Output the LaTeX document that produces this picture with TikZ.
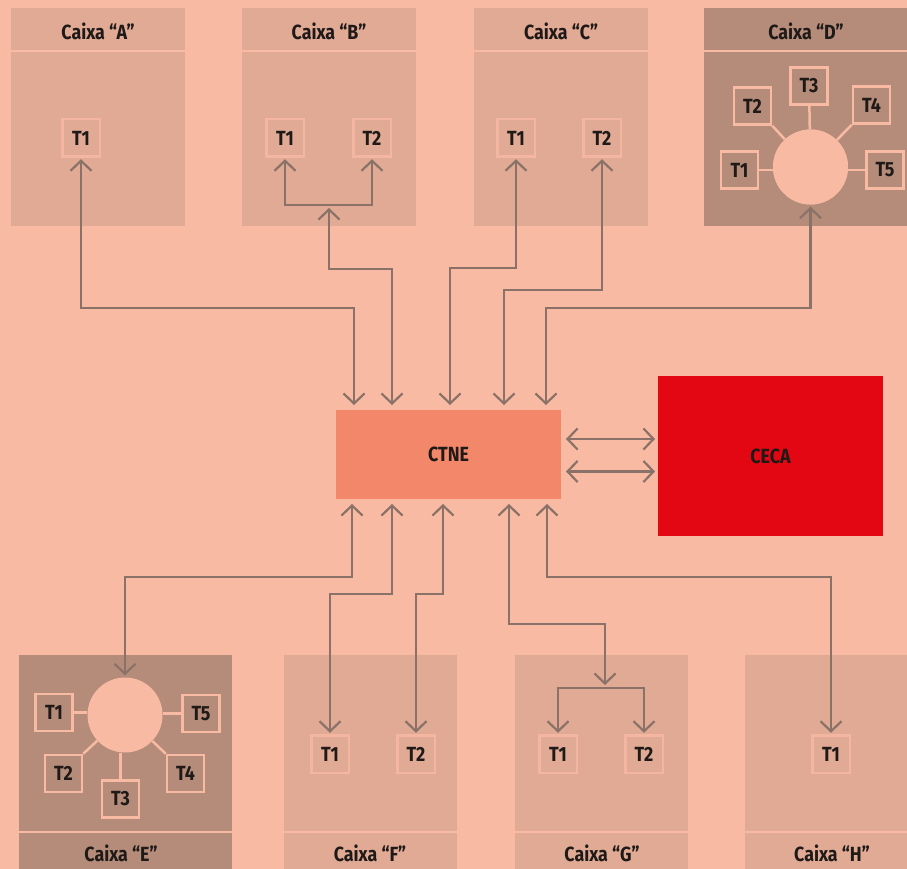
\documentclass[tikz,border=0pt]{standalone}
\usepackage{fontspec}
\newfontfamily\lblfont{Fira Sans}[FakeStretch=0.87]
\usetikzlibrary{arrows.meta}
\definecolor{bgc}{HTML}{F8BAA3}
\definecolor{panellight}{HTML}{E1AA95}
\definecolor{paneldark}{HTML}{B58C7A}
\definecolor{tborder}{HTML}{F5B6A1}
\definecolor{ctnec}{HTML}{F2876A}
\definecolor{cecac}{HTML}{E30613}
\definecolor{arrowc}{HTML}{8B7268}
\definecolor{textc}{HTML}{1F1A17}
\tikzset{
  lbl/.style={font=\lblfont\bfseries\fontsize{20.5}{24}\selectfont, text=textc, inner sep=0pt},
  tlight/.style={lbl, draw=tborder, line width=2.5pt, minimum size=37.5pt, outer sep=2.5pt},
  tdark/.style={lbl, draw=bgc, line width=2.5pt, fill=paneldark, minimum size=37pt},
  hub/.style={circle, fill=bgc, minimum size=75pt, inner sep=0pt},
  spoke/.style={draw=bgc, line width=2.5pt},
  divider/.style={draw=bgc, line width=2pt},
  dbl/.style={draw=arrowc, line width=2.2pt,
    {Straight Barb[length=10pt,width=21pt]}-{Straight Barb[length=10pt,width=21pt]}},
  caption/.style={lbl, anchor=base}
}
\begin{document}
\begin{tikzpicture}[x=1pt,y=-1pt]
\useasboundingbox (0,0) rectangle (907,869);
\fill[bgc] (0,0) rectangle (907,869);
% panels
\fill[panellight] (11,8) rectangle (185,226);
\fill[panellight] (242,8) rectangle (416,226);
\fill[panellight] (474,8) rectangle (648,226);
\fill[paneldark] (704,8) rectangle (907,226);
\fill[paneldark] (19,655) rectangle (232,869);
\fill[panellight] (284,655) rectangle (457,869);
\fill[panellight] (515,655) rectangle (688,869);
\fill[panellight] (745,655) rectangle (907,869);
\draw[divider] (11,51) -- (185,51);
\draw[divider] (242,51) -- (416,51);
\draw[divider] (474,51) -- (648,51);
\draw[divider] (704,51) -- (907,51);
\draw[divider] (19,832) -- (232,832);
\draw[divider] (284,832) -- (457,832);
\draw[divider] (515,832) -- (688,832);
\draw[divider] (745,832) -- (907,832);
% captions
\node[caption] (capA) at (98,40) {Caixa “A”};
\node[caption] (capB) at (329,40) {Caixa “B”};
\node[caption] (capC) at (561,40) {Caixa “C”};
\node[caption] (capD) at (806,40) {Caixa “D”};
\node[caption] (capE) at (121,861) {Caixa “E”};
\node[caption] (capF) at (370,861) {Caixa “F”};
\node[caption] (capG) at (602,861) {Caixa “G”};
\node[caption] (capH) at (832,861) {Caixa “H”};
% terminals in light panels
\node[tlight] (A1) at (81,138) {T1};
\node[tlight] (B1) at (285,138) {T1};
\node[tlight] (B2) at (372,138) {T2};
\node[tlight] (C1) at (516,138) {T1};
\node[tlight] (C2) at (602,138) {T2};
\node[tlight] (F1) at (330,754) {T1};
\node[tlight] (F2) at (416,754) {T2};
\node[tlight] (G1) at (558,754) {T1};
\node[tlight] (G2) at (644,754) {T2};
\node[tlight] (H1) at (831,754) {T1};
% Caixa D star
\node[hub] (Dc) at (810.5,167) {};
\node[tdark] (D1) at (739.5,170) {T1};
\node[tdark] (D2) at (752.5,106) {T2};
\node[tdark] (D3) at (809,86) {T3};
\node[tdark] (D4) at (871.5,105) {T4};
\node[tdark] (D5) at (885,170) {T5};
\draw[spoke] (D1) -- (D1 -| Dc.west);
\draw[spoke] (D5) -- (D5 -| Dc.east);
\draw[spoke] (D2.south east) -- (Dc);
\draw[spoke] (D3) -- (Dc);
\draw[spoke] (D4.south west) -- (Dc);
% Caixa E star
\node[hub] (Ec) at (125,715) {};
\node[tdark] (E1) at (54,712.5) {T1};
\node[tdark] (E5) at (201,713.5) {T5};
\node[tdark] (E2) at (63.5,773.5) {T2};
\node[tdark] (E3) at (120.5,799) {T3};
\node[tdark] (E4) at (185.5,773.5) {T4};
\draw[spoke] (E1) -- (E1 -| Ec.west);
\draw[spoke] (E5) -- (E5 -| Ec.east);
\draw[spoke] (E2.north east) -- (Ec);
\draw[spoke] (E3) -- (E3 |- Ec.south);
\draw[spoke] (E4.north west) -- (Ec);
% redraw hubs on top of spokes
\fill[bgc] (Dc) circle (37.5);
\fill[bgc] (Ec) circle (37);
% central boxes
\node[lbl, fill=ctnec, minimum width=225pt, minimum height=89pt, outer sep=5pt] (CTNE) at (448.5,454.5) {CTNE};
\node[lbl, fill=cecac, minimum width=225pt, minimum height=160pt, outer sep=3pt] (CECA) at (770.5,456) {CECA};
% junction coordinates
\coordinate (hA) at (354,308);
\coordinate (jB) at (329,205);
\coordinate (jBt) at (329,208);
\coordinate (hB) at (392,269);
\coordinate (hC1) at (450,268);
\coordinate (hC2) at (504,290);
\coordinate (hD) at (546,308);
\coordinate (hE) at (352,577);
\coordinate (hF1) at (392,594);
\coordinate (hF2) at (443,594);
\coordinate (jG) at (605,688);
\coordinate (jGt) at (605,685);
\coordinate (hG) at (509,624);
\coordinate (hH) at (547,577);
% connectors top
\draw[dbl] (A1.south) |- (hA) -- (hA |- CTNE.north);
\draw[dbl] (B1.south) |- (jB) -| (B2.south);
\draw[dbl] (jBt) |- (hB) -- (hB |- CTNE.north);
\draw[dbl] (C1.south) |- (hC1) -- (hC1 |- CTNE.north);
\draw[dbl] (C2.south) |- (hC2) -- (hC2 |- CTNE.north);
\draw[dbl] ([yshift=-2pt]Dc.south) |- (hD) -- (hD |- CTNE.north);
% connectors bottom
\draw[dbl] ([yshift=2pt]Ec.north) |- (hE) -- (hE |- CTNE.south);
\draw[dbl] (F1.north) |- (hF1) -- (hF1 |- CTNE.south);
\draw[dbl] (F2.north) |- (hF2) -- (hF2 |- CTNE.south);
\draw[dbl] (G1.north) |- (jG) -| (G2.north);
\draw[dbl] (jGt) |- (hG) -- (hG |- CTNE.south);
\draw[dbl] (H1.north) |- (hH) -- (hH |- CTNE.south);
% CTNE - CECA
\draw[dbl] ([yshift=15.5pt]CTNE.east) -- ([yshift=15.5pt]CTNE.east -| CECA.west);
\draw[dbl] ([yshift=-17pt]CTNE.east) -- ([yshift=-17pt]CTNE.east -| CECA.west);
\end{tikzpicture}
\end{document}
